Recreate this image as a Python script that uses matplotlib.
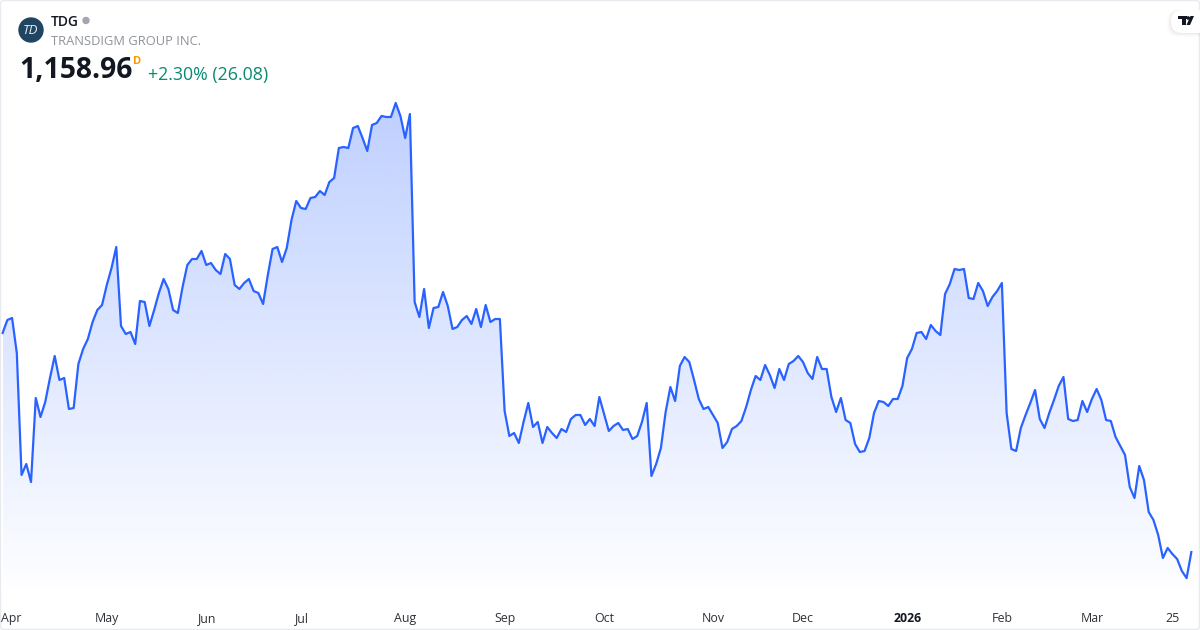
# TDG area chart, one year of daily closes

import numpy as np
import matplotlib
matplotlib.use('Agg')
import matplotlib.pyplot as plt
from matplotlib.patches import Circle, FancyBboxPatch, Polygon, Rectangle

plt.rcParams['font.family'] = ['Open Sans', 'DejaVu Sans']

# Daily closes
closes = [
    1378, 1391, 1393, 1358, 1236, 1247, 1229, 1313, 1294, 1309,
    1333, 1355, 1331, 1333, 1302, 1303, 1347, 1362, 1372, 1389,
    1401, 1406, 1426, 1443, 1464, 1385, 1377, 1379, 1367, 1410,
    1409, 1385, 1401, 1418, 1432, 1422, 1401, 1398, 1424, 1446,
    1452, 1452, 1460, 1446, 1448, 1441, 1437, 1457, 1452, 1426,
    1422, 1428, 1432, 1420, 1418, 1407, 1436, 1462, 1464, 1449,
    1463, 1491, 1510, 1503, 1502, 1513, 1514, 1520, 1516, 1529,
    1533, 1563, 1564, 1563, 1583, 1585, 1573, 1560, 1586, 1588,
    1595, 1594, 1594, 1608, 1595, 1573, 1597, 1409, 1394, 1422,
    1383, 1403, 1404, 1419, 1405, 1382, 1384, 1391, 1395, 1387,
    1402, 1384, 1406, 1389, 1392, 1392, 1300, 1275, 1278, 1268,
    1289, 1308, 1284, 1289, 1268, 1284, 1278, 1273, 1282, 1279,
    1292, 1296, 1296, 1286, 1292, 1285, 1314, 1297, 1280, 1285,
    1288, 1281, 1282, 1272, 1275, 1289, 1308, 1235, 1247, 1263,
    1299, 1324, 1310, 1345, 1354, 1349, 1331, 1312, 1302, 1304,
    1296, 1288, 1263, 1269, 1282, 1285, 1290, 1304, 1321, 1335,
    1331, 1346, 1336, 1323, 1342, 1331, 1347, 1350, 1355, 1349,
    1338, 1332, 1354, 1342, 1342, 1314, 1299, 1313, 1291, 1288,
    1267, 1259, 1260, 1273, 1298, 1310, 1309, 1305, 1312, 1312,
    1325, 1353, 1362, 1378, 1379, 1372, 1386, 1380, 1376, 1417,
    1427, 1442, 1441, 1442, 1413, 1412, 1428, 1420, 1405, 1414,
    1420, 1428, 1298, 1262, 1260, 1283, 1296, 1308, 1321, 1292,
    1283, 1298, 1311, 1325, 1334, 1292, 1290, 1291, 1310, 1299,
    1312, 1322, 1311, 1291, 1290, 1274, 1265, 1256, 1224, 1213,
    1245, 1231, 1199, 1191, 1176, 1153, 1163, 1157, 1152, 1140,
    1132.88, 1158.96,
]

tick_positions = [1, 22, 43, 63, 85, 106, 127, 150, 169, 191, 211, 230, 247]
tick_labels = ['Apr', 'May', 'Jun', 'Jul', 'Aug', 'Sep', 'Oct', 'Nov', 'Dec',
               '2026', 'Feb', 'Mar', '25']

line_color = '#2962ff'
x = np.arange(len(closes))
y = np.array(closes)

fig = plt.figure(figsize=(12, 6.3), dpi=100, facecolor='white')

# main chart fills the whole figure, no axes drawn
ax = fig.add_axes([0, 0, 1, 1])
x_left, x_right = -0.55, 252.83
y_bottom, y_top = 1081, 1711
ax.set_xlim(x_left, x_right)
ax.set_ylim(y_bottom, y_top)
ax.axis('off')

# gradient under the line, clipped to the area below it
fill_floor = 1111
grad_top = y.max()
alpha = np.linspace(0.30, 0, 256).reshape(-1, 1)
rgba = np.zeros((256, 1, 4))
rgba[..., 0] = 41 / 255
rgba[..., 1] = 98 / 255
rgba[..., 2] = 1
rgba[..., 3] = alpha
img = ax.imshow(rgba, extent=[x[0], x[-1], fill_floor, grad_top], origin='upper',
                aspect='auto', interpolation='bilinear', zorder=1)
area = ax.fill_between(x, y, fill_floor, color='none', linewidth=0)
img.set_clip_path(area.get_paths()[0], transform=ax.transData)
ax.set_xlim(x_left, x_right)
ax.set_ylim(y_bottom, y_top)

ax.plot(x, y, color=line_color, linewidth=1.6, solid_joinstyle='round', zorder=2)

# overlay in pixel coordinates for header, labels and logos
ov = fig.add_axes([0, 0, 1, 1])
ov.set_xlim(0, 1200)
ov.set_ylim(630, 0)
ov.axis('off')
ov.patch.set_alpha(0)

ov.add_patch(FancyBboxPatch((0.5, 0.5), 1199, 629, boxstyle='round,pad=0,rounding_size=3',
                            fill=False, edgecolor='#e8eaef', linewidth=1.0))

# ticker logo
ov.add_patch(Circle((31, 30), 12, color='#1f4560'))
ov.text(31, 30.5, 'TD', color='#e8edf2', fontsize=9.5, style='italic', ha='center', va='center')

ov.text(51, 22, 'TDG', color='#131722', fontsize=9.9, fontweight='semibold', va='center')
ov.add_patch(Circle((86, 20.5), 3, color='#a3a6af'))
ov.text(51, 41.5, 'TRANSDIGM GROUP INC.', color='#8f929b', fontsize=9.3, va='center')

ov.text(19, 71, '1,158.96', color='#131722', fontsize=20.3, fontweight='bold', va='center')
ov.text(133, 61.5, 'D', color='#ff9800', fontsize=8, fontweight='bold', va='center')
ov.text(148, 75, '+2.30% (26.08)', color='#0a8a70', fontsize=12.8, va='center')

# x labels
for pos, label in zip(tick_positions, tick_labels):
    px = (pos - x_left) / (x_right - x_left) * 1200
    bold = label == '2026'
    if label == 'Apr':
        ov.text(1, 618.5, label, color='#2e3138', fontsize=8.9, ha='left', va='center')
    else:
        ov.text(px, 618.5, label, color='#131722' if bold else '#2e3138', fontsize=8.9,
                fontweight='bold' if bold else 'normal', ha='center', va='center')

# TradingView badge, top right with soft shadow
for grow, shade in [(4, 0.012), (3, 0.016), (2, 0.02), (1, 0.025)]:
    ov.add_patch(FancyBboxPatch((1171 - grow, 10), 60 + grow, 23 + grow,
                                boxstyle='round,pad=0,rounding_size=11', facecolor='black',
                                edgecolor='none', alpha=shade, clip_on=True))
ov.add_patch(FancyBboxPatch((1171, 10), 60, 23, boxstyle='round,pad=0,rounding_size=11',
                            facecolor='white', edgecolor='none'))
ov.add_patch(Rectangle((1177.5, 16), 9, 3.4, color='#131722', linewidth=0))
ov.add_patch(Rectangle((1182, 16), 4, 8.8, color='#131722', linewidth=0))
ov.add_patch(Circle((1188.2, 18), 1.8, color='#131722', linewidth=0))
ov.add_patch(Polygon([(1190.5, 16), (1194, 16), (1190, 25), (1186.5, 25)], color='#131722', linewidth=0))

fig.savefig('out.png', dpi=100)
